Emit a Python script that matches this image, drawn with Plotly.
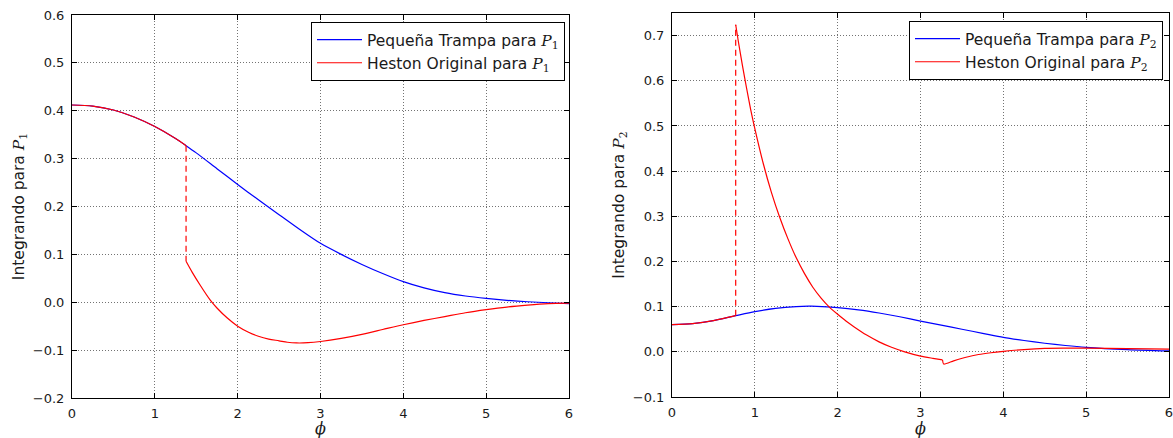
import plotly.graph_objects as go

# ---------------- data ----------------
# Left panel (P1)
phi_p1 = [0, 0.25, 0.5, 0.75, 1.0, 1.25, 1.377, 1.5, 1.75, 2.0, 2.25, 2.5, 2.75,
          3.0, 3.25, 3.5, 3.75, 4.0, 4.25, 4.5, 4.75, 5.0, 5.25, 5.5, 5.75, 6.0]
trampa_p1 = [0.412, 0.4095, 0.4015, 0.387, 0.367, 0.342, 0.327, 0.312, 0.279, 0.246,
             0.214, 0.183, 0.152, 0.123, 0.100, 0.079, 0.060, 0.043, 0.030, 0.020,
             0.013, 0.008, 0.004, 0.001, -0.001, -0.003]

heston_p1_x_a = [0, 0.25, 0.5, 0.75, 1.0, 1.25, 1.377]
heston_p1_y_a = [0.412, 0.4095, 0.4015, 0.387, 0.367, 0.342, 0.327]
heston_p1_x_b = [1.377, 1.45, 1.55, 1.667, 1.75, 1.875, 2.0, 2.125, 2.25, 2.375, 2.5,
                 2.6, 2.71, 2.85, 3.0, 3.25, 3.5, 3.75, 4.0, 4.25, 4.5, 4.75, 5.0,
                 5.25, 5.5, 5.75, 6.0]
heston_p1_y_b = [0.0856, 0.063, 0.035, 0.005, -0.012, -0.033, -0.050, -0.062, -0.071,
                 -0.077, -0.0805, -0.0835, -0.085, -0.0845, -0.082, -0.0755, -0.067,
                 -0.057, -0.047, -0.038, -0.030, -0.022, -0.0155, -0.010, -0.006,
                 -0.003, -0.002]
salto_p1_x = [1.377, 1.377]
salto_p1_y = [0.327, 0.0856]

# Right panel (P2)
phi_p2 = [0, 0.25, 0.5, 0.769, 1.0, 1.25, 1.5, 1.65, 1.75, 2.0, 2.25, 2.5, 2.75,
          3.0, 3.25, 3.5, 3.75, 4.0, 4.25, 4.5, 4.75, 5.0, 5.5, 6.0]
trampa_p2 = [0.060, 0.0625, 0.069, 0.080, 0.089, 0.096, 0.100, 0.101, 0.1008,
             0.098, 0.093, 0.086, 0.0776, 0.068, 0.059, 0.050, 0.041, 0.032, 0.025,
             0.019, 0.014, 0.010, 0.005, 0.002]

heston_p2_x_a = [0, 0.25, 0.5, 0.769]
heston_p2_y_a = [0.060, 0.0625, 0.069, 0.080]
heston_p2_x_b = [0.769, 0.8, 0.85, 0.9, 0.95, 1.0, 1.1, 1.2, 1.3, 1.4, 1.5, 1.6, 1.7,
                 1.8, 1.9, 2.0, 2.1, 2.2, 2.35, 2.5, 2.65, 2.8, 3.0, 3.15, 3.266]
heston_p2_y_b = [0.724, 0.688, 0.634, 0.584, 0.536, 0.494, 0.418, 0.353, 0.298,
                 0.250, 0.208, 0.173, 0.143, 0.119, 0.099, 0.083, 0.068, 0.055,
                 0.037, 0.022, 0.010, 0.0005, -0.0095, -0.0145, -0.018]
heston_p2_x_c = [3.266, 3.28, 3.4, 3.55, 3.7, 3.85, 4.0, 4.25, 4.5, 4.75, 5.0, 5.5, 6.0]
heston_p2_y_c = [-0.018, -0.027, -0.020, -0.012, -0.006, -0.002, 0.001, 0.005, 0.0075,
                 0.008, 0.008, 0.007, 0.006]
salto_p2_x = [0.769, 0.769]
salto_p2_y = [0.080, 0.724]

x_ticks = [0, 1, 2, 3, 4, 5, 6]
y_ticks_p1 = [-0.2, -0.1, 0.0, 0.1, 0.2, 0.3, 0.4, 0.5, 0.6]
y_ticks_p2 = [-0.1, 0.0, 0.1, 0.2, 0.3, 0.4, 0.5, 0.6, 0.7]

# ---------------- styling ----------------
BLUE = "#0000ff"
RED = "#ff0000"
LW = 1.2
FONT = "DejaVu Sans"
MATH = "DejaVu Serif"
TXT = "#1a1a1a"


def P(n):
    return f'<span style="font-family:{MATH}"><i>P</i><sub>{n}</sub></span>'


PHI = f'<span style="font-family:{MATH}"><i>ϕ</i></span>'


def seg(*parts):
    xs, ys = [], []
    for i, (px, py) in enumerate(parts):
        if i:
            xs.append(None)
            ys.append(None)
        xs += px
        ys += py
    return xs, ys


fig = go.Figure()

# Left panel
fig.add_trace(go.Scatter(x=phi_p1, y=trampa_p1, mode="lines",
                         line=dict(color=BLUE, width=LW, shape="spline", smoothing=0.8),
                         name="Pequeña Trampa para " + P(1), legend="legend",
                         xaxis="x", yaxis="y"))
hx, hy = seg((heston_p1_x_a, heston_p1_y_a), (heston_p1_x_b, heston_p1_y_b))
fig.add_trace(go.Scatter(x=hx, y=hy, mode="lines",
                         line=dict(color=RED, width=LW, shape="spline", smoothing=0.8),
                         connectgaps=False,
                         name="Heston Original para " + P(1), legend="legend",
                         xaxis="x", yaxis="y"))
fig.add_trace(go.Scatter(x=salto_p1_x, y=salto_p1_y, mode="lines",
                         line=dict(color=RED, width=LW, dash="6px,4px"),
                         showlegend=False, hoverinfo="skip", xaxis="x", yaxis="y"))

# Right panel
fig.add_trace(go.Scatter(x=phi_p2, y=trampa_p2, mode="lines",
                         line=dict(color=BLUE, width=LW, shape="spline", smoothing=0.8),
                         name="Pequeña Trampa para " + P(2), legend="legend2",
                         xaxis="x2", yaxis="y2"))
hx2, hy2 = seg((heston_p2_x_a, heston_p2_y_a), (heston_p2_x_b, heston_p2_y_b),
               (heston_p2_x_c, heston_p2_y_c))
fig.add_trace(go.Scatter(x=hx2, y=hy2, mode="lines",
                         line=dict(color=RED, width=LW, shape="spline", smoothing=0.7),
                         connectgaps=False,
                         name="Heston Original para " + P(2), legend="legend2",
                         xaxis="x2", yaxis="y2"))
fig.add_trace(go.Scatter(x=salto_p2_x, y=salto_p2_y, mode="lines",
                         line=dict(color=RED, width=LW, dash="6px,4px"),
                         showlegend=False, hoverinfo="skip", xaxis="x2", yaxis="y2"))

W, H = 1173, 438

common_axis = dict(showline=True, linecolor="black", linewidth=1, mirror="ticks",
                   ticks="inside", ticklen=5, tickcolor="black", tickwidth=1,
                   showgrid=True, gridcolor="rgba(0,0,0,0.55)", griddash="1px,2px",
                   gridwidth=1, zeroline=False, automargin=False,
                   ticklabeloverflow="allow",
                   tickfont=dict(family=FONT, size=13, color=TXT))

xa = dict(common_axis, range=[0, 6], tickvals=x_ticks, ticktext=[str(v) for v in x_ticks],
          ticklabelstandoff=3,
          title=dict(text=PHI, font=dict(family=FONT, size=16, color=TXT), standoff=7))

ytitle_font = dict(family=FONT, size=15.5, color=TXT)

legend_common = dict(xanchor="right", yanchor="top", bgcolor="white",
                     bordercolor="black", borderwidth=1, itemwidth=45,
                     font=dict(family=FONT, size=15.5, color=TXT), tracegroupgap=0)

fig.update_layout(
    width=W, height=H,
    margin=dict(l=0, r=0, t=0, b=0, autoexpand=False),
    paper_bgcolor="white", plot_bgcolor="white",
    font=dict(family=FONT, color=TXT),
    xaxis=dict(xa, domain=[72 / W, 569 / W], anchor="y"),
    yaxis=dict(common_axis, range=[-0.2, 0.6], tickvals=y_ticks_p1,
               tickformat=".1f", domain=[1 - 398 / H, 1 - 15 / H], anchor="x",
               ticklabelstandoff=4,
               title=dict(text="Integrando para " + P(1), font=ytitle_font, standoff=4)),
    xaxis2=dict(xa, domain=[672 / W, 1169 / W], anchor="y2"),
    yaxis2=dict(common_axis, range=[-0.1, 0.75], tickvals=y_ticks_p2,
                tickformat=".1f", domain=[1 - 397 / H, 1 - 13 / H], anchor="x2",
                ticklabelstandoff=4,
                title=dict(text="Integrando para " + P(2), font=ytitle_font, standoff=4)),
    legend=dict(legend_common, x=565 / W, y=1 - 22 / H),
    legend2=dict(legend_common, x=1163 / W, y=1 - 21 / H),
    showlegend=True,
)

fig.write_html("out.html")
